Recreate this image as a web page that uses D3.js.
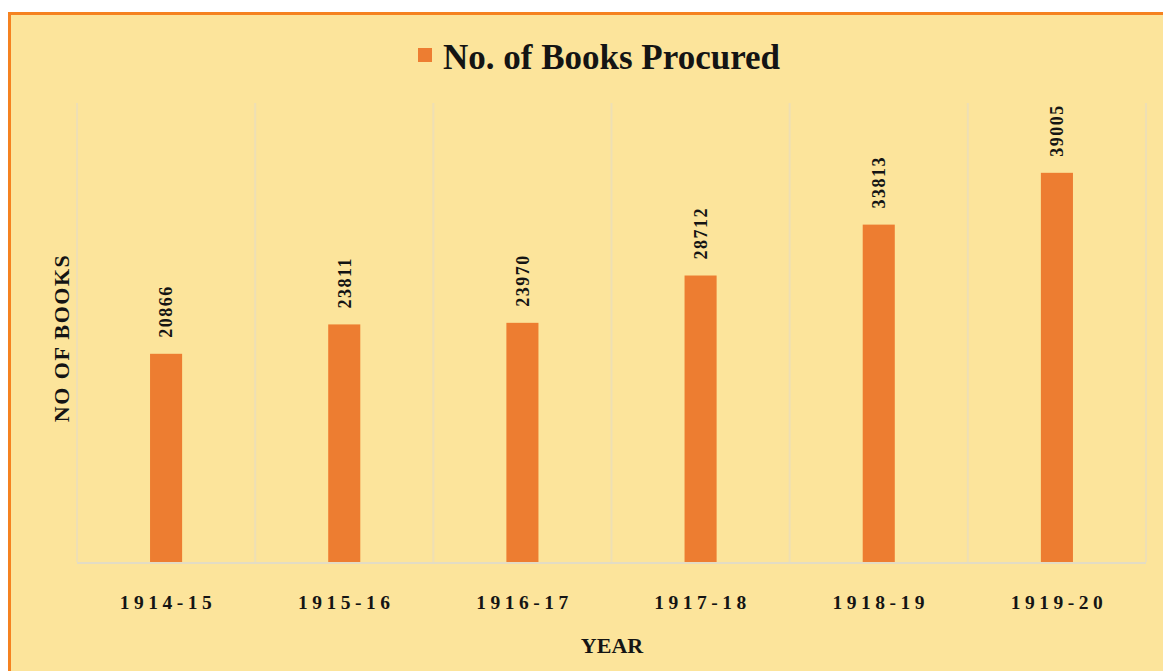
<!DOCTYPE html>
<html>
<head>
<meta charset="utf-8">
<script src="https://cdnjs.cloudflare.com/ajax/libs/d3/7.8.5/d3.min.js"></script>
<style>
  html, body { margin: 0; padding: 0; background: #ffffff; }
  svg { display: block; }
  text { font-family: "Liberation Serif", "Times New Roman", serif; font-weight: bold; fill: #141414; }
</style>
</head>
<body>
<svg class="chart"></svg>
<script>
// Chart data
const years = ["1914-15", "1915-16", "1916-17", "1917-18", "1918-19", "1919-20"];
const booksProcured = [20866, 23811, 23970, 28712, 33813, 39005];
const seriesName = "No. of Books Procured";

// Chart dimensions
const width = 1163;
const height = 671;
const plot = { left: 77, right: 1146, top: 113, bottom: 562 };
const barColor = "#ED7D31";

const svg = d3.select(".chart").attr("width", width).attr("height", height);

// Background panel with orange border
svg
  .append("rect")
  .attr("x", 9.5)
  .attr("y", 13.5)
  .attr("width", width + 20)
  .attr("height", height + 20)
  .attr("fill", "#FCE49B")
  .attr("stroke", "#F58220")
  .attr("stroke-width", 3);

const data = years.map((year, i) => ({ year, value: booksProcured[i] }));

// Scales
const xScale = d3
  .scaleBand()
  .domain(years)
  .range([plot.left, plot.right])
  .paddingInner(0.82)
  .paddingOuter(0.41);

const yScale = d3
  .scaleLinear()
  .domain([0, 45000])
  .range([plot.bottom, plot.top]);

// Vertical gridlines at category boundaries
const step = xScale.step();
const boundaries = d3.range(years.length + 1).map((i) => plot.left + i * step);
svg
  .append("g")
  .attr("class", "grid")
  .selectAll("line")
  .data(boundaries)
  .enter()
  .append("line")
  .attr("x1", (d) => d)
  .attr("x2", (d) => d)
  .attr("y1", plot.top - 10)
  .attr("y2", plot.bottom)
  .attr("stroke", "#EEDFB4")
  .attr("stroke-width", 2);

// Bars
svg
  .append("g")
  .selectAll(".bar")
  .data(data)
  .enter()
  .append("rect")
  .attr("class", "bar")
  .attr("x", (d) => xScale(d.year))
  .attr("y", (d) => yScale(d.value))
  .attr("width", xScale.bandwidth())
  .attr("height", (d) => yScale(0) - yScale(d.value))
  .attr("fill", barColor);

// Baseline
svg
  .append("line")
  .attr("x1", plot.left)
  .attr("x2", plot.right)
  .attr("y1", plot.bottom + 1)
  .attr("y2", plot.bottom + 1)
  .attr("stroke", "#E3DCC4")
  .attr("stroke-width", 2);

// Value labels, rotated
svg
  .append("g")
  .selectAll(".bar-text")
  .data(data)
  .enter()
  .append("text")
  .attr("class", "bar-text")
  .attr("transform", (d) => `translate(${xScale(d.year) + xScale.bandwidth() / 2}, ${yScale(d.value) - 16}) rotate(-90)`)
  .attr("dy", "0.35em")
  .style("font-size", "18px")
  .style("letter-spacing", "1.5px")
  .text((d) => d.value);

// X axis tick labels
const xAxis = svg
  .append("g")
  .attr("class", "x-axis")
  .attr("transform", `translate(0, ${plot.bottom})`)
  .call(d3.axisBottom(xScale).tickSize(0).tickPadding(0));
xAxis.select(".domain").remove();
xAxis
  .selectAll("text")
  .attr("y", 47)
  .attr("dy", 0)
  .attr("dx", "2px")
  .style("font-size", "19.5px")
  .style("letter-spacing", "4.5px")
  .style("font-family", "'Liberation Serif', serif")
  .attr("fill", "#141414");

// Axis titles
svg
  .append("text")
  .attr("x", 612)
  .attr("y", 653)
  .style("text-anchor", "middle")
  .style("font-size", "22px")
  .text("YEAR");

svg
  .append("text")
  .attr("transform", "translate(69, 338) rotate(-90)")
  .style("text-anchor", "middle")
  .style("font-size", "22px")
  .style("letter-spacing", "1.5px")
  .text("NO OF BOOKS");

// Legend
const legend = svg.append("g").attr("class", "legend");
legend
  .append("rect")
  .attr("x", 418)
  .attr("y", 48)
  .attr("width", 14)
  .attr("height", 14)
  .attr("fill", barColor);
legend
  .append("text")
  .attr("x", 443)
  .attr("y", 69)
  .style("font-size", "35px")
  .text(seriesName);
</script>
</body>
</html>
